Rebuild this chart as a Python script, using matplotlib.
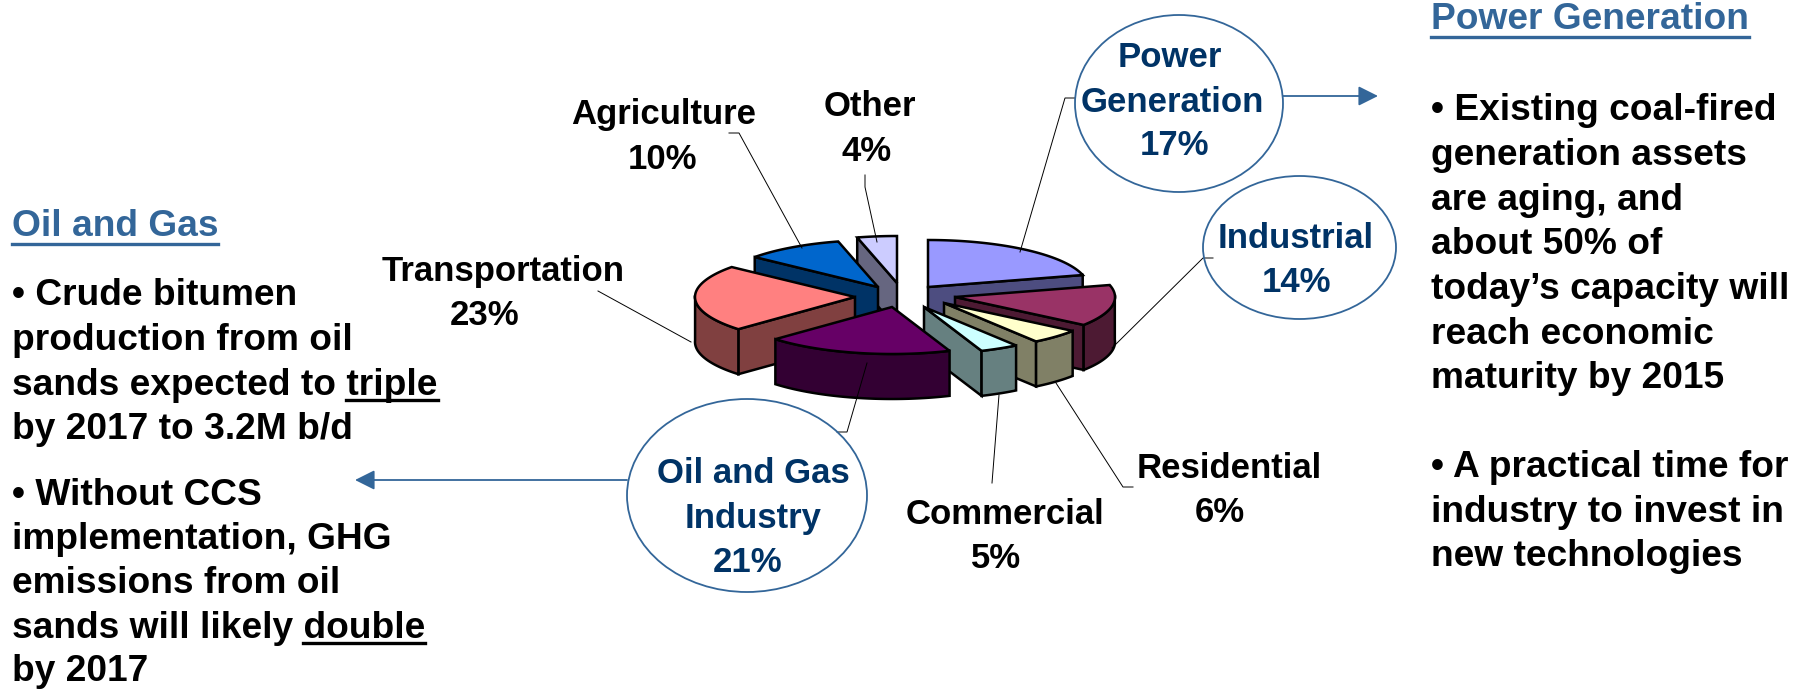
import numpy as np
import matplotlib
matplotlib.use("Agg")
import matplotlib.pyplot as plt
from matplotlib.patches import Ellipse, Polygon

plt.rcParams['font.family'] = ['Liberation Sans', 'DejaVu Sans']

# pie data, clockwise from 12 o'clock
sectors = ["Power Generation", "Industrial", "Residential", "Commercial",
           "Oil and Gas Industry", "Transportation", "Agriculture", "Other"]
shares = [17, 14, 6, 5, 21, 23, 10, 4]
top_colors = ["#9999FF", "#993366", "#FFFFCC", "#CCFFFF", "#660066", "#FF8080", "#0066CC", "#CCCCFF"]
side_colors = ["#4D4D80", "#4D1A33", "#808066", "#668080", "#330033", "#804040", "#003366", "#666680"]

# how far each slice is pulled out of the centre, pixels
explode_x = [16, 43, 32, 12, -20, -57, -34, -15]
explode_y = [-10, 0, 6, 10, 10, 0, -10, -14]
draw_order = [7, 6, 0, 5, 1, 2, 3, 4]

oil_head = "Oil and Gas"
oil_lines = ["• Crude bitumen", "production from oil", "sands expected to triple", "by 2017 to 3.2M b/d",
             "• Without CCS", "implementation, GHG", "emissions from oil", "sands will likely double", "by 2017"]
oil_base = [305, 350, 395, 439, 505, 549, 593, 638, 681]

power_head = "Power Generation"
power_lines = ["• Existing coal-fired", "generation assets", "are aging, and", "about 50% of",
               "today’s capacity will", "reach economic", "maturity by 2015",
               "• A practical time for", "industry to invest in", "new technologies"]
power_base = [120, 165, 210, 254, 299, 344, 388, 477, 522, 566]

# text, centre x, baseline y
black_labels = [("Agriculture", 664, 124), ("10%", 662, 169), ("Other", 870, 116), ("4%", 867, 161),
                ("Transportation", 503, 281), ("23%", 485, 325), ("Residential", 1229, 478), ("6%", 1220, 522),
                ("Commercial", 1005, 524), ("5%", 996, 568)]
blue_labels = [("Power", 1170, 67), ("Generation", 1172, 112), ("17%", 1175, 155),
               ("Industrial", 1296, 248), ("14%", 1297, 292),
               ("Oil and Gas", 753, 483), ("Industry", 753, 528), ("21%", 748, 572)]

# centre x, centre y, width, height
bubbles = [(1179, 103.5, 208, 177), (1299.5, 247.5, 193, 143), (747, 495.5, 240, 193)]

leaders = [[(1075, 98), (1065, 98), (1020, 252)],
           [(1213, 258), (1203, 258), (1112, 348)],
           [(1133, 487), (1123, 487), (1056, 383)],
           [(992, 483), (999, 395)],
           [(837, 432), (847, 432), (867, 363)],
           [(598, 291), (691, 342)],
           [(729, 133), (739, 133), (802, 248)],
           [(865, 175), (865, 187), (877, 242)]]

cx, cy = 912, 297
rx, ry, depth = 160, 47, 45
line_w = 1.8

fig = plt.figure(figsize=(18.05, 6.89), dpi=100)
ax = fig.add_axes([0, 0, 1, 1])
ax.set_xlim(0, 1805)
ax.set_ylim(689, 0)
ax.axis("off")

ends = np.cumsum(shares) / sum(shares) * 2 * np.pi
starts = np.concatenate([[0], ends[:-1]])

for i in draw_order:
    ax0, ay0 = cx + explode_x[i], cy + explode_y[i]
    angles = np.linspace(starts[i], ends[i], 80)
    # the 3D view stretches angles on the front right
    b = angles + np.radians(16) * np.sin(angles) * (angles < np.pi)
    xs = ax0 + rx * np.sin(b)
    ys = ay0 - ry * np.cos(b)
    # radial walls facing the viewer
    walls = []
    if xs[0] < ax0 - 1:
        walls.append((xs[0], ys[0]))
    if xs[-1] > ax0 + 1:
        walls.append((xs[-1], ys[-1]))
    for x1, y1 in walls:
        wall = [(ax0, ay0), (x1, y1), (x1, y1 + depth), (ax0, ay0 + depth)]
        ax.add_patch(Polygon(wall, closed=True, fc=side_colors[i], ec="black", lw=line_w, zorder=2))
    # outer wall, only where it faces down
    front = np.cos(b) < 0.05
    if front.sum() > 1:
        fx, fy = xs[front], ys[front]
        rim = list(zip(fx, fy)) + list(zip(fx[::-1], fy[::-1] + depth))
        ax.add_patch(Polygon(rim, closed=True, fc=side_colors[i], ec="black", lw=line_w, zorder=2))
    top = [(ax0, ay0)] + list(zip(xs, ys))
    ax.add_patch(Polygon(top, closed=True, fc=top_colors[i], ec="black", lw=line_w, zorder=2))

for pts in leaders:
    ax.plot([p[0] for p in pts], [p[1] for p in pts], color="black", lw=0.7, zorder=3)

for x0, y0, w, h in bubbles:
    ax.add_patch(Ellipse((x0, y0), w, h, fc="none", ec="#336699", lw=1.3, zorder=4))

# arrows out of the bubbles
arrow = dict(arrowstyle="-|>,head_length=0.6,head_width=0.3", mutation_scale=20, color="#336699",
             lw=1.3, shrinkA=0, shrinkB=0)
ax.annotate("", xy=(1378, 96), xytext=(1283, 96), zorder=4, arrowprops=arrow)
ax.annotate("", xy=(355, 480), xytext=(627, 480), zorder=4, arrowprops=arrow)

label_fs = 25.0
body_fs = 26.7
for t, x, y in black_labels:
    ax.text(x, y, t, ha="center", va="baseline", fontsize=label_fs, fontweight="bold", color="black", zorder=5)
for t, x, y in blue_labels:
    ax.text(x, y, t, ha="center", va="baseline", fontsize=label_fs, fontweight="bold", color="#003366", zorder=5)

ax.text(12, 236, oil_head, ha="left", va="baseline", fontsize=body_fs, fontweight="bold", color="#336699")
ax.plot([12, 218], [244, 244], color="#336699", lw=2.4)
for t, y in zip(oil_lines, oil_base):
    ax.text(12, y, t, ha="left", va="baseline", fontsize=body_fs, fontweight="bold", color="black")
ax.plot([346, 438], [400, 400], color="black", lw=2.4)
ax.plot([303, 425], [643, 643], color="black", lw=2.4)

ax.text(1431, 29, power_head, ha="left", va="baseline", fontsize=body_fs, fontweight="bold", color="#336699")
ax.plot([1431, 1749], [37, 37], color="#336699", lw=2.4)
for t, y in zip(power_lines, power_base):
    ax.text(1431, y, t, ha="left", va="baseline", fontsize=body_fs, fontweight="bold", color="black")

fig.savefig("out.png", dpi=100)
